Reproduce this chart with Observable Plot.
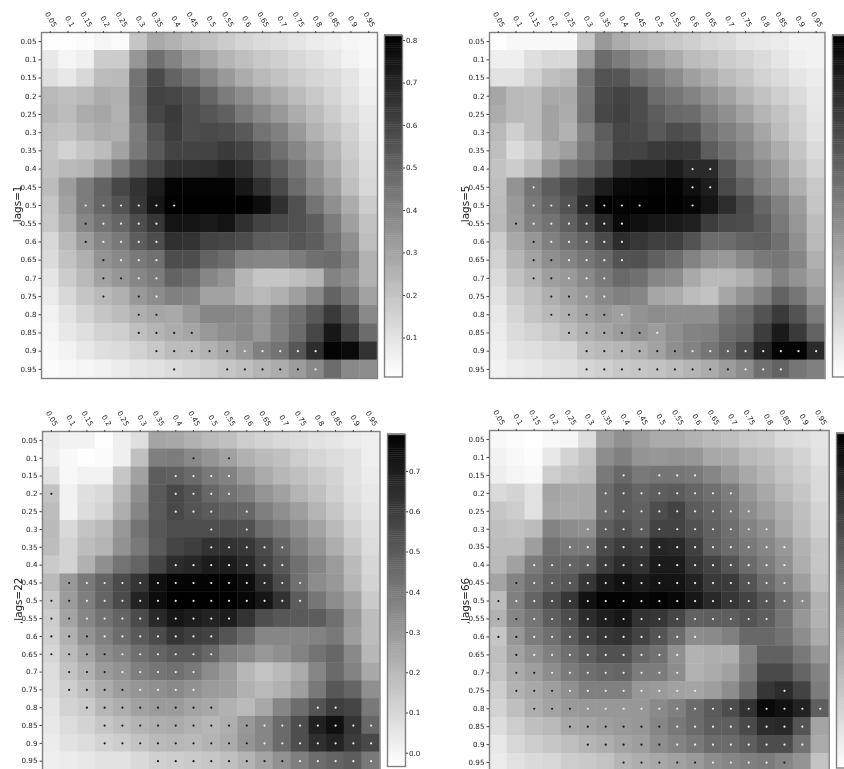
<!DOCTYPE html>
<html>
<head>
<meta charset="utf-8">
<script src="https://cdn.jsdelivr.net/npm/d3@7"></script>
<script src="https://cdn.jsdelivr.net/npm/@observablehq/plot@0.6"></script>
<style>
html,body{margin:0;padding:0;background:#fff;width:844px;height:769px;overflow:hidden}
#chart{position:relative;width:844px;height:769px;overflow:hidden}
#chart svg{position:absolute;overflow:visible;filter:blur(0.6px)}
</style>
</head>
<body>
<div id="chart"></div>
<script>
const labels = ["0.05","0.1","0.15","0.2","0.25","0.3","0.35","0.4","0.45","0.5","0.55","0.6","0.65","0.7","0.75","0.8","0.85","0.9","0.95"];

const lags1 = [
[0.01,0.01,0.02,0.04,0.02,0.19,0.28,0.25,0.22,0.20,0.17,0.14,0.12,0.11,0.09,0.07,0.06,0.04,0.03],
[0.08,0.04,0.06,0.17,0.17,0.34,0.46,0.40,0.33,0.29,0.24,0.21,0.18,0.16,0.13,0.11,0.08,0.05,0.03],
[0.11,0.08,0.13,0.22,0.23,0.45,0.58,0.50,0.45,0.39,0.33,0.27,0.23,0.20,0.17,0.14,0.12,0.09,0.05],
[0.23,0.21,0.23,0.27,0.26,0.46,0.60,0.59,0.56,0.49,0.42,0.37,0.31,0.27,0.22,0.18,0.14,0.10,0.06],
[0.24,0.22,0.27,0.29,0.25,0.45,0.59,0.63,0.57,0.54,0.51,0.43,0.38,0.33,0.27,0.22,0.17,0.12,0.08],
[0.21,0.20,0.24,0.27,0.26,0.42,0.55,0.62,0.57,0.58,0.57,0.53,0.45,0.41,0.33,0.25,0.20,0.15,0.09],
[0.19,0.15,0.19,0.22,0.30,0.43,0.53,0.60,0.60,0.60,0.63,0.60,0.53,0.46,0.39,0.31,0.24,0.17,0.11],
[0.20,0.23,0.24,0.32,0.42,0.52,0.59,0.66,0.66,0.67,0.70,0.66,0.58,0.52,0.44,0.35,0.27,0.19,0.12],
[0.22,0.32,0.42,0.50,0.59,0.65,0.72,0.80,0.80,0.80,0.80,0.74,0.66,0.58,0.47,0.38,0.31,0.21,0.13],
[0.19,0.30,0.42,0.49,0.55,0.64,0.74,0.81,0.81,0.81,0.81,0.81,0.77,0.66,0.56,0.45,0.36,0.27,0.17],
[0.18,0.27,0.39,0.45,0.49,0.57,0.64,0.75,0.75,0.73,0.75,0.66,0.60,0.58,0.56,0.52,0.42,0.31,0.20],
[0.13,0.23,0.32,0.39,0.43,0.52,0.57,0.66,0.65,0.60,0.59,0.57,0.52,0.51,0.54,0.52,0.45,0.36,0.21],
[0.12,0.20,0.26,0.35,0.38,0.43,0.46,0.57,0.57,0.50,0.47,0.40,0.39,0.39,0.42,0.46,0.47,0.40,0.25],
[0.09,0.17,0.23,0.30,0.34,0.39,0.42,0.50,0.47,0.39,0.35,0.24,0.19,0.19,0.21,0.24,0.40,0.36,0.25],
[0.07,0.13,0.19,0.23,0.26,0.33,0.37,0.41,0.40,0.30,0.30,0.25,0.23,0.26,0.31,0.38,0.50,0.42,0.30],
[0.05,0.10,0.15,0.19,0.22,0.26,0.29,0.28,0.33,0.39,0.39,0.38,0.34,0.41,0.46,0.53,0.63,0.53,0.38],
[0.04,0.08,0.11,0.15,0.16,0.21,0.24,0.27,0.29,0.33,0.36,0.38,0.34,0.41,0.47,0.59,0.74,0.61,0.47],
[0.03,0.05,0.08,0.11,0.12,0.15,0.18,0.22,0.22,0.25,0.29,0.34,0.41,0.45,0.54,0.67,0.80,0.78,0.65],
[0.02,0.03,0.04,0.05,0.07,0.09,0.10,0.12,0.14,0.16,0.19,0.21,0.24,0.27,0.32,0.38,0.47,0.38,0.37]];

const lags5 = [
[0.01,0.03,0.03,0.03,0.03,0.18,0.33,0.27,0.22,0.20,0.18,0.16,0.13,0.12,0.09,0.08,0.07,0.05,0.05],
[0.06,0.06,0.11,0.13,0.13,0.32,0.47,0.42,0.36,0.31,0.27,0.22,0.20,0.17,0.15,0.12,0.09,0.06,0.05],
[0.10,0.10,0.15,0.21,0.23,0.44,0.55,0.54,0.46,0.42,0.37,0.31,0.27,0.22,0.19,0.15,0.12,0.09,0.07],
[0.29,0.23,0.22,0.28,0.28,0.44,0.58,0.60,0.57,0.47,0.44,0.40,0.35,0.30,0.24,0.20,0.16,0.12,0.08],
[0.27,0.23,0.22,0.30,0.27,0.45,0.59,0.61,0.57,0.52,0.48,0.47,0.41,0.36,0.30,0.24,0.20,0.15,0.09],
[0.23,0.16,0.22,0.30,0.25,0.40,0.52,0.59,0.58,0.53,0.57,0.55,0.46,0.41,0.36,0.29,0.22,0.16,0.10],
[0.21,0.12,0.17,0.27,0.31,0.43,0.50,0.60,0.60,0.63,0.64,0.63,0.52,0.46,0.40,0.33,0.27,0.19,0.12],
[0.20,0.17,0.23,0.35,0.43,0.48,0.56,0.66,0.69,0.69,0.72,0.68,0.68,0.54,0.44,0.38,0.31,0.22,0.15],
[0.21,0.35,0.45,0.52,0.58,0.63,0.72,0.78,0.79,0.80,0.80,0.76,0.72,0.58,0.50,0.41,0.35,0.26,0.18],
[0.22,0.33,0.43,0.49,0.55,0.68,0.80,0.80,0.81,0.81,0.81,0.79,0.75,0.67,0.58,0.49,0.41,0.32,0.19],
[0.23,0.32,0.41,0.45,0.51,0.59,0.69,0.78,0.76,0.74,0.73,0.71,0.62,0.58,0.57,0.52,0.43,0.34,0.22],
[0.17,0.28,0.34,0.41,0.46,0.50,0.58,0.67,0.64,0.61,0.61,0.55,0.47,0.47,0.50,0.51,0.46,0.36,0.23],
[0.15,0.24,0.30,0.36,0.40,0.44,0.48,0.55,0.56,0.51,0.47,0.40,0.35,0.33,0.38,0.43,0.44,0.39,0.26],
[0.12,0.20,0.25,0.31,0.33,0.38,0.43,0.48,0.46,0.39,0.37,0.28,0.23,0.23,0.26,0.32,0.40,0.35,0.29],
[0.10,0.17,0.21,0.26,0.30,0.34,0.38,0.41,0.39,0.29,0.27,0.22,0.20,0.29,0.35,0.41,0.50,0.44,0.33],
[0.08,0.14,0.19,0.23,0.26,0.30,0.33,0.31,0.35,0.37,0.36,0.36,0.36,0.44,0.47,0.55,0.63,0.55,0.42],
[0.07,0.12,0.15,0.18,0.22,0.26,0.29,0.32,0.35,0.32,0.36,0.40,0.41,0.47,0.50,0.62,0.73,0.63,0.50],
[0.06,0.10,0.11,0.13,0.14,0.21,0.23,0.24,0.26,0.30,0.36,0.40,0.44,0.50,0.58,0.70,0.80,0.80,0.68],
[0.05,0.07,0.08,0.10,0.11,0.14,0.16,0.18,0.19,0.20,0.22,0.24,0.27,0.32,0.37,0.46,0.50,0.44,0.41]];

const lags22 = [
[0.03,0.01,0.01,-0.03,0.02,0.07,0.26,0.25,0.22,0.19,0.17,0.13,0.11,0.09,0.08,0.06,0.05,0.03,0.02],
[0.02,-0.01,-0.03,-0.02,0.02,0.17,0.38,0.39,0.35,0.31,0.27,0.22,0.19,0.17,0.13,0.10,0.08,0.06,0.02],
[0.06,-0.01,0.01,0.01,0.15,0.27,0.49,0.48,0.45,0.40,0.37,0.30,0.24,0.20,0.17,0.14,0.11,0.06,0.03],
[0.16,0.01,0.07,0.09,0.20,0.33,0.50,0.56,0.52,0.46,0.42,0.38,0.31,0.27,0.21,0.17,0.12,0.07,0.04],
[0.18,0.01,0.08,0.11,0.23,0.36,0.50,0.56,0.52,0.50,0.48,0.46,0.38,0.33,0.28,0.21,0.15,0.09,0.05],
[0.19,0.09,0.16,0.19,0.30,0.42,0.51,0.54,0.54,0.54,0.54,0.53,0.44,0.39,0.33,0.26,0.19,0.12,0.07],
[0.18,0.11,0.18,0.21,0.32,0.40,0.50,0.57,0.59,0.63,0.63,0.61,0.55,0.47,0.38,0.31,0.23,0.15,0.08],
[0.14,0.11,0.22,0.33,0.42,0.47,0.57,0.65,0.67,0.70,0.70,0.66,0.58,0.51,0.43,0.36,0.29,0.19,0.10],
[0.19,0.30,0.40,0.47,0.55,0.62,0.74,0.78,0.78,0.78,0.78,0.75,0.65,0.55,0.43,0.34,0.30,0.20,0.11],
[0.15,0.29,0.38,0.47,0.55,0.68,0.75,0.79,0.79,0.79,0.79,0.77,0.72,0.63,0.49,0.41,0.34,0.26,0.14],
[0.13,0.26,0.36,0.42,0.47,0.55,0.66,0.72,0.70,0.68,0.70,0.63,0.54,0.51,0.50,0.49,0.43,0.30,0.18],
[0.12,0.22,0.32,0.38,0.44,0.50,0.55,0.62,0.59,0.58,0.52,0.45,0.36,0.36,0.36,0.37,0.40,0.28,0.18],
[0.10,0.19,0.26,0.34,0.37,0.43,0.47,0.50,0.50,0.46,0.38,0.35,0.30,0.33,0.37,0.42,0.46,0.35,0.20],
[0.08,0.16,0.22,0.29,0.32,0.38,0.41,0.43,0.40,0.34,0.29,0.20,0.16,0.19,0.24,0.36,0.45,0.37,0.25],
[0.07,0.13,0.18,0.24,0.28,0.31,0.33,0.35,0.32,0.29,0.28,0.22,0.19,0.22,0.28,0.40,0.51,0.47,0.33],
[0.05,0.11,0.14,0.20,0.23,0.27,0.29,0.29,0.26,0.25,0.22,0.19,0.25,0.36,0.44,0.52,0.59,0.57,0.40],
[0.04,0.08,0.11,0.15,0.18,0.21,0.23,0.24,0.22,0.20,0.23,0.30,0.36,0.45,0.54,0.69,0.74,0.62,0.46],
[0.03,0.06,0.08,0.11,0.13,0.16,0.19,0.20,0.19,0.21,0.24,0.31,0.36,0.45,0.54,0.64,0.68,0.60,0.56],
[0.02,0.03,0.04,0.06,0.06,0.09,0.12,0.13,0.14,0.15,0.17,0.21,0.26,0.32,0.38,0.44,0.47,0.49,0.40]];

const lags66 = [
[0.04,0.03,0.02,0.04,0.05,0.12,0.30,0.35,0.31,0.27,0.27,0.25,0.23,0.21,0.18,0.17,0.13,0.12,0.10],
[0.06,0.04,0.03,0.09,0.15,0.20,0.36,0.40,0.34,0.33,0.34,0.33,0.28,0.27,0.23,0.21,0.18,0.15,0.11],
[0.07,0.05,0.04,0.17,0.20,0.22,0.42,0.47,0.42,0.43,0.43,0.42,0.38,0.33,0.28,0.24,0.20,0.17,0.13],
[0.13,0.15,0.11,0.29,0.28,0.28,0.46,0.51,0.48,0.50,0.51,0.48,0.45,0.41,0.33,0.28,0.23,0.19,0.13],
[0.19,0.17,0.11,0.28,0.27,0.28,0.46,0.51,0.49,0.55,0.58,0.51,0.48,0.43,0.36,0.31,0.26,0.21,0.15],
[0.21,0.20,0.22,0.39,0.36,0.35,0.50,0.54,0.50,0.58,0.58,0.54,0.49,0.45,0.39,0.35,0.28,0.22,0.16],
[0.22,0.22,0.31,0.44,0.42,0.42,0.56,0.60,0.59,0.67,0.66,0.59,0.50,0.46,0.42,0.38,0.33,0.25,0.19],
[0.23,0.30,0.41,0.47,0.48,0.50,0.60,0.65,0.63,0.70,0.70,0.62,0.58,0.53,0.46,0.41,0.35,0.26,0.19],
[0.29,0.39,0.45,0.50,0.52,0.62,0.70,0.73,0.70,0.72,0.72,0.68,0.61,0.60,0.53,0.46,0.40,0.31,0.21],
[0.22,0.40,0.48,0.55,0.62,0.73,0.77,0.77,0.76,0.77,0.76,0.71,0.66,0.62,0.58,0.52,0.45,0.37,0.25],
[0.25,0.38,0.43,0.50,0.55,0.65,0.69,0.71,0.63,0.62,0.57,0.49,0.50,0.50,0.53,0.50,0.43,0.33,0.25],
[0.19,0.33,0.41,0.45,0.51,0.58,0.62,0.63,0.58,0.53,0.46,0.36,0.37,0.40,0.47,0.47,0.44,0.36,0.27],
[0.21,0.30,0.35,0.40,0.45,0.50,0.54,0.54,0.47,0.44,0.35,0.25,0.26,0.26,0.39,0.49,0.49,0.42,0.33],
[0.20,0.27,0.31,0.36,0.41,0.45,0.47,0.48,0.41,0.41,0.36,0.25,0.27,0.30,0.41,0.56,0.56,0.48,0.39],
[0.17,0.25,0.28,0.31,0.35,0.40,0.40,0.40,0.33,0.32,0.30,0.29,0.31,0.36,0.46,0.62,0.65,0.58,0.41],
[0.15,0.21,0.26,0.29,0.32,0.33,0.33,0.33,0.33,0.37,0.40,0.46,0.51,0.55,0.63,0.75,0.73,0.68,0.50],
[0.12,0.17,0.21,0.23,0.28,0.29,0.31,0.32,0.33,0.38,0.42,0.46,0.50,0.50,0.56,0.65,0.66,0.53,0.29],
[0.09,0.14,0.17,0.19,0.21,0.24,0.26,0.29,0.31,0.36,0.39,0.42,0.46,0.46,0.50,0.55,0.55,0.44,0.27],
[0.08,0.11,0.13,0.14,0.17,0.18,0.20,0.24,0.26,0.28,0.30,0.32,0.36,0.38,0.40,0.41,0.38,0.34,0.20]];

// significance markers: [row label, first column, last column] as positions 1-19 along the axes
const white1 = [[10,3,8],[11,4,7],[12,4,7],[13,5,7],[14,6,7],[15,7,7],[18,12,16],[19,16,16]];
const black1 = [[11,3,3],[12,3,3],[13,4,4],[14,4,5],[15,4,4],[15,6,6],[16,6,7],[17,6,9],[18,7,11],[19,8,8],[19,11,15]];
const white5 = [[8,12,13],[9,3,3],[9,12,13],[10,3,9],[10,12,12],[11,3,8],[12,4,8],[13,5,8],[14,5,7],[15,6,7],[16,8,8],[17,10,10],[18,12,19],[19,15,17]];
const black5 = [[11,2,2],[12,3,3],[13,3,4],[14,3,4],[15,4,5],[16,4,7],[17,5,9],[18,6,11],[19,6,14]];
const white22 = [[3,8,11],[4,8,11],[5,8,10],[5,12,12],[6,10,10],[6,12,12],[7,10,14],[8,8,14],[9,3,15],[10,3,15],[11,3,11],[12,4,10],[13,5,10],[14,5,9],[15,6,9],[16,16,17],[17,13,19],[18,13,19],[19,15,19]];
const black22 = [[2,9,9],[2,11,11],[4,1,1],[9,2,2],[10,1,2],[11,1,2],[12,1,3],[13,1,4],[14,2,4],[15,2,5],[16,3,10],[17,4,12],[18,4,12],[19,7,14]];
const white66 = [[3,8,8],[3,10,12],[4,7,14],[5,7,15],[6,6,16],[7,5,17],[8,3,17],[9,3,17],[10,2,18],[11,3,16],[12,3,12],[13,3,11],[14,4,11],[15,5,12],[15,17,17],[16,6,19],[17,11,18],[18,11,18],[19,13,16]];
const black66 = [[9,2,2],[10,1,1],[11,1,2],[12,1,2],[13,2,2],[14,2,3],[15,2,4],[16,3,5],[17,5,10],[18,6,10],[19,8,12],[19,17,17]];

const font = "DejaVu Sans";
const root = document.getElementById("chart");

function expand(ranges) {
  return ranges.flatMap(([r, a, b]) => d3.range(a, b + 1).map(c => ({x: labels[c - 1], y: labels[r - 1]})));
}

function place(svg, left, top) {
  svg.style.left = left + "px";
  svg.style.top = top + "px";
  svg.style.background = "none";
  root.appendChild(svg);
}

function panel({matrix, white, black, title, domain, left, top, right, bottom, cbar, ticks}) {
  const table = matrix.flatMap((row, i) => row.map((v, j) => ({x: labels[j], y: labels[i], v})));
  const w = right - left, h = bottom - top;
  const svg = Plot.plot({
    width: w + 60, height: h + 60,
    marginLeft: 40, marginTop: 30, marginRight: 20, marginBottom: 30,
    style: {fontFamily: font, fontSize: "7.2px", color: "#222", overflow: "visible"},
    x: {type: "band", domain: labels, padding: 0, round: false, label: null},
    y: {type: "band", domain: labels, padding: 0, round: false, label: null},
    color: {type: "linear", domain, range: ["#fff", "#000"]},
    marks: [
      Plot.cell(table, {x: "x", y: "y", fill: "v", inset: -0.2}),
      Plot.dot(expand(black), {x: "x", y: "y", r: 1.1, fill: "#1a1a1a"}),
      Plot.dot(expand(white), {x: "x", y: "y", r: 1.1, fill: "#eee"}),
      Plot.frame({stroke: "#808080", strokeWidth: 1.4}),
      Plot.axisX({anchor: "top", tickSize: 2, fill: "none", label: null, stroke: "#444"}),
      Plot.axisX({anchor: "top", tickSize: 0, tickRotate: 60, tickPadding: 6, dx: 4.5, label: null}),
      Plot.axisY({anchor: "left", tickSize: 2.5, tickPadding: 2.5, label: null, stroke: "#444"}),
      Plot.text([title], {frameAnchor: "left", textAnchor: "middle", rotate: -90, dx: -24, fontSize: 10.4, fill: "#222", fontFamily: font})
    ]
  });
  place(svg, left - 40, top - 30);

  const n = 160, step = (domain[1] - domain[0]) / n;
  const shades = d3.range(n).map(i => domain[0] + i * step);
  const bar = Plot.plot({
    width: 48, height: cbar.bottom - cbar.top,
    marginLeft: 0, marginRight: 30, marginTop: 0, marginBottom: 0,
    style: {fontFamily: font, fontSize: "7.2px", color: "#222", overflow: "visible"},
    x: {axis: null},
    y: {domain, label: null, axis: null},
    color: {type: "linear", domain, range: ["#fff", "#000"]},
    marks: [
      Plot.rect(shades, {y1: d => d, y2: d => d + step * 1.2, fill: d => d}),
      Plot.frame({stroke: "#808080", strokeWidth: 1.4}),
      ticks ? Plot.axisY(ticks, {anchor: "right", tickSize: 2, tickPadding: 1.5, tickFormat: d3.format(".1f"), label: null, stroke: "#444"}) : null
    ]
  });
  place(bar, cbar.left, cbar.top);
}

panel({matrix: lags1, white: white1, black: black1, title: ",lags=1", domain: [0.008, 0.812],
  left: 41, top: 32, right: 377, bottom: 378,
  cbar: {left: 384, top: 34.5, bottom: 376}, ticks: [0.1,0.2,0.3,0.4,0.5,0.6,0.7,0.8]});
panel({matrix: lags5, white: white5, black: black5, title: ",lags=5", domain: [0.008, 0.812],
  left: 488.5, top: 32, right: 824, bottom: 378,
  cbar: {left: 832, top: 34.5, bottom: 376}, ticks: null});
panel({matrix: lags22, white: white22, black: black22, title: ",lags=22", domain: [-0.033, 0.792],
  left: 41.5, top: 431, right: 379, bottom: 769.6,
  cbar: {left: 387, top: 434, bottom: 766}, ticks: [0,0.1,0.2,0.3,0.4,0.5,0.6,0.7]});
panel({matrix: lags66, white: white66, black: black66, title: ",lags=66", domain: [0.02, 0.78],
  left: 489, top: 429.5, right: 828.7, bottom: 770.6,
  cbar: {left: 836.3, top: 432.5, bottom: 767}, ticks: null});
</script>
</body>
</html>
